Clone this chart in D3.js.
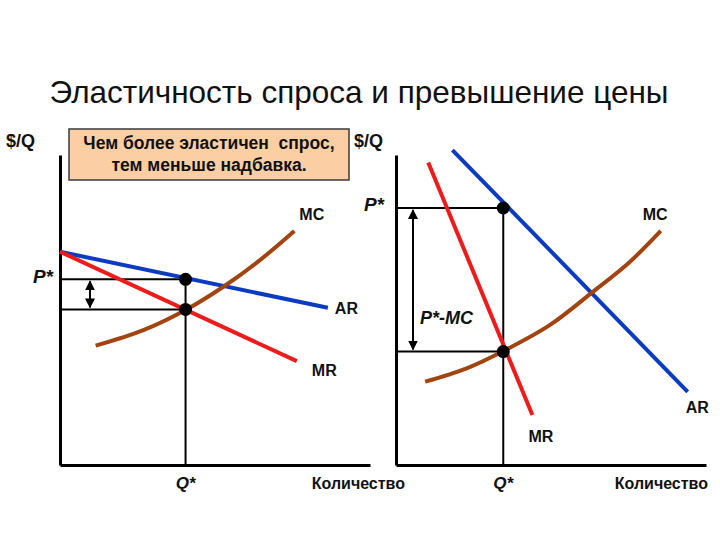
<!DOCTYPE html>
<html><head><meta charset="utf-8">
<script src="https://cdn.jsdelivr.net/npm/d3@7"></script>
<style>body{margin:0;background:#fff}svg{display:block}text{white-space:pre}</style>
</head><body>
<svg id="c" width="720" height="540"></svg>
<script>
// ---- data (quantity, price in abstract units 0..10) ----
const title = "Эластичность спроса и превышение цены";
const noteLines = ["Чем более эластичен  спрос,", "тем меньше надбавка."];
const axisLabelY = "$/Q";
const axisLabelX = "Количество";

// Left panel: elastic demand
const leftAR = [[0, 6.88], [8.64, 5.07]];
const leftMR = [[0, 6.88], [7.64, 3.35]];
const leftMC = [[1.15, 3.85], [2.69, 4.35], [4.05, 5.0], [5.27, 5.75], [6.45, 6.61], [7.56, 7.55]];
const leftQstar = 4.05, leftPstar = 5.99, leftMCstar = 5.02;

// Right panel: inelastic demand
const rightAR = [[1.82, 10.16], [9.41, 2.36]];
const rightMR = [[1.04, 9.76], [4.40, 1.61]];
const rightMC = [[0.94, 2.69], [2.28, 3.12], [3.47, 3.68], [4.97, 4.52], [6.33, 5.57], [7.55, 6.56], [8.54, 7.55]];
const rightQstar = 3.46, rightPstar = 8.29, rightMCstar = 3.66;

const curveLabels = ["MC", "AR", "MR"];

// ---- drawing ----
const svg = d3.select("#c");
const BLUE = "#0b3bc0", RED = "#ee1b1b", BROWN = "#a2440f";
const FONT = "'Liberation Sans', Arial, sans-serif";

svg.append("text").attr("x", 359).attr("y", 103).attr("text-anchor", "middle")
  .attr("font-family", FONT).attr("font-size", 31.5).attr("fill", "#111").text(title);

const defs = svg.append("defs");
defs.append("marker").attr("id", "ah").attr("viewBox", "0 0 10 10").attr("refX", 9).attr("refY", 5)
  .attr("markerWidth", 10).attr("markerHeight", 10).attr("markerUnits", "userSpaceOnUse")
  .attr("orient", "auto-start-reverse")
  .append("path").attr("d", "M0,0 L10,5 L0,10 z").attr("fill", "#000");

function panel(o) {
  const x = d3.scaleLinear().domain([0, 10]).range([o.x0, o.x0 + 310]);
  const y = d3.scaleLinear().domain([0, 10]).range([465, 155]);
  const g = svg.append("g");
  const line = d3.line().x(d => x(d[0])).y(d => y(d[1]));
  const lineC = d3.line().x(d => x(d[0])).y(d => y(d[1])).curve(d3.curveCatmullRom);

  // axes (no ticks)
  const xa = d3.axisBottom(x).tickValues([]).tickSizeOuter(0);
  const ya = d3.axisLeft(y).tickValues([]).tickSizeOuter(0);
  g.append("g").attr("transform", `translate(0,465)`).call(xa)
    .select(".domain").attr("stroke", "#000").attr("stroke-width", 3);
  g.append("g").attr("transform", `translate(${o.x0},0)`).call(ya)
    .select(".domain").attr("stroke", "#000").attr("stroke-width", 3);

  // reference lines
  const ref = g.append("g").attr("stroke", "#000").attr("stroke-width", 2).attr("fill", "none");
  ref.append("line").attr("x1", x(0)).attr("x2", x(o.q)).attr("y1", y(o.p)).attr("y2", y(o.p));
  ref.append("line").attr("x1", x(0)).attr("x2", x(o.q)).attr("y1", y(o.mc)).attr("y2", y(o.mc));
  ref.append("line").attr("x1", x(o.q)).attr("x2", x(o.q)).attr("y1", y(o.p)).attr("y2", y(0));

  // double arrow
  g.append("line").attr("x1", o.arrowX).attr("x2", o.arrowX)
    .attr("y1", y(o.p) + 2).attr("y2", y(o.mc) - 2)
    .attr("stroke", "#000").attr("stroke-width", 2)
    .attr("marker-start", "url(#ah)").attr("marker-end", "url(#ah)");

  // curves
  g.append("path").attr("d", line(o.ar)).attr("stroke", BLUE).attr("stroke-width", 4).attr("fill", "none");
  g.append("path").attr("d", lineC(o.mcc)).attr("stroke", BROWN).attr("stroke-width", 4).attr("fill", "none");
  g.append("path").attr("d", line(o.mr)).attr("stroke", RED).attr("stroke-width", 4).attr("fill", "none");

  // points
  g.selectAll("circle.pt").data([[o.q, o.p], [o.q, o.mc]]).join("circle")
    .attr("cx", d => x(d[0])).attr("cy", d => y(d[1])).attr("r", 6.5).attr("fill", "#000");

  // labels
  const lab = (t, px, py, opts = {}) => g.append("text").attr("x", px).attr("y", py)
    .attr("font-family", FONT).attr("font-weight", "bold").attr("font-size", opts.size || 16)
    .attr("font-style", opts.italic ? "italic" : "normal")
    .attr("text-anchor", opts.anchor || "start").attr("fill", "#111").text(t);

  lab(axisLabelY, o.x0 - 54 + o.yLabDx, 147, {size: 18});
  lab("P*", o.pLabX, y(o.p) + o.pLabDy, {size: 19, italic: true, anchor: "end"});
  lab("Q*", x(o.q), 489, {size: 17, italic: true, anchor: "middle"});
  lab(axisLabelX, o.xLabEnd, 489, {size: 16, anchor: "end"});
  const last = a => a[a.length - 1];
  lab(curveLabels[0], x(last(o.mcc)[0]) + o.mcLab[0], y(last(o.mcc)[1]) + o.mcLab[1]);
  lab(curveLabels[1], x(last(o.ar)[0]) + o.arLab[0], y(last(o.ar)[1]) + o.arLab[1]);
  lab(curveLabels[2], x(last(o.mr)[0]) + o.mrLab[0], y(last(o.mr)[1]) + o.mrLab[1]);
  if (o.extra) lab(o.extra, 420, 324, {size: 18, italic: true});
  return g;
}

panel({x0: 60, ar: leftAR, mr: leftMR, mcc: leftMC, q: leftQstar, p: leftPstar, mc: leftMCstar,
  arrowX: 90, pLabX: 53, pLabDy: 4, yLabDx: 0, xLabEnd: 405,
  mcLab: [5, -11], arLab: [7, 6], mrLab: [15, 15]});
panel({x0: 396, ar: rightAR, mr: rightMR, mcc: rightMC, q: rightQstar, p: rightPstar, mc: rightMCstar,
  arrowX: 413, pLabX: 384, pLabDy: 3, yLabDx: 12, xLabEnd: 708,
  mcLab: [-18, -11], arLab: [-2, 21], mrLab: [-4, 27], extra: "P*-MC"});

// note box
const note = svg.append("g");
note.append("rect").attr("x", 69).attr("y", 129).attr("width", 280).attr("height", 51)
  .attr("fill", "#fbcfa3").attr("stroke", "#3a3a3a").attr("stroke-width", 1.5);
note.selectAll("text").data(noteLines).join("text")
  .attr("x", 209).attr("y", (d, i) => 149 + i * 22).attr("text-anchor", "middle")
  .attr("font-family", FONT).attr("font-weight", "bold").attr("font-size", 17.5).attr("fill", "#111")
  .text(d => d);
</script>
</body></html>
